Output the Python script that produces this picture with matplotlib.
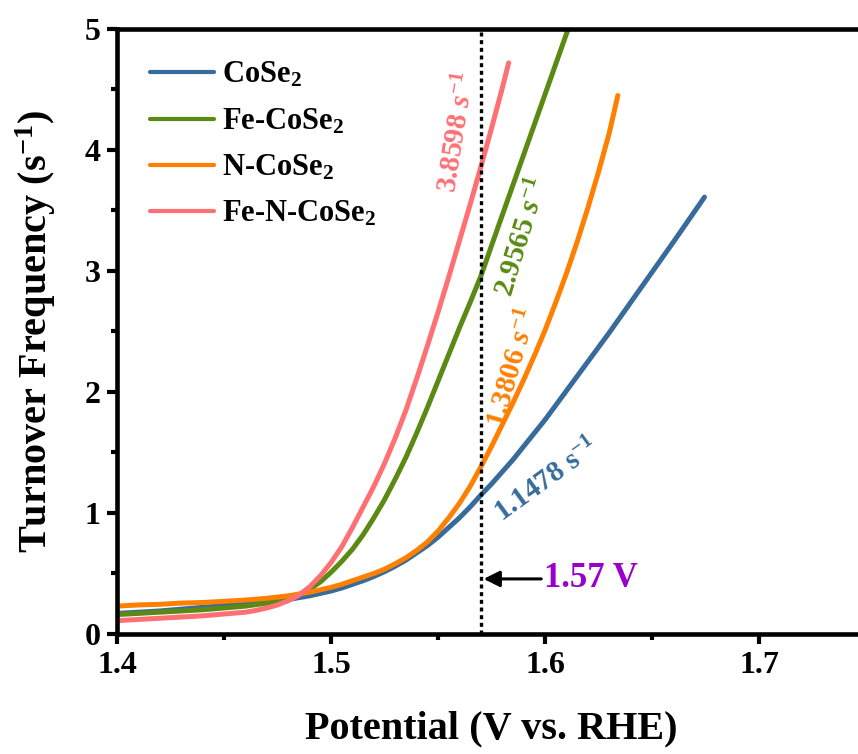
import matplotlib
matplotlib.use("Agg")
import matplotlib.pyplot as plt
from matplotlib.ticker import MultipleLocator

# TOF vs potential for the four catalysts
v_cose2 = [1.400, 1.410, 1.420, 1.430, 1.440, 1.450, 1.460, 1.470, 1.480, 1.490, 1.500,
           1.505, 1.510, 1.515, 1.520, 1.525, 1.530, 1.535, 1.540, 1.545, 1.550, 1.555,
           1.560, 1.565, 1.570, 1.575, 1.580, 1.585, 1.590, 1.595, 1.600, 1.610, 1.620,
           1.630, 1.640, 1.650, 1.660, 1.6745]
tof_cose2 = [0.17, 0.18, 0.19, 0.205, 0.22, 0.235, 0.25, 0.265, 0.285, 0.315, 0.355,
             0.38, 0.41, 0.44, 0.475, 0.515, 0.56, 0.61, 0.67, 0.73, 0.80, 0.88,
             0.96, 1.05, 1.1478, 1.24, 1.34, 1.44, 1.55, 1.66, 1.77, 2.01, 2.25,
             2.49, 2.74, 2.99, 3.24, 3.61]

v_fe = [1.400, 1.410, 1.420, 1.430, 1.440, 1.450, 1.460, 1.470, 1.475, 1.480, 1.485,
        1.490, 1.495, 1.500, 1.505, 1.510, 1.515, 1.520, 1.525, 1.530, 1.535, 1.540,
        1.545, 1.550, 1.555, 1.560, 1.565, 1.570, 1.575, 1.580, 1.585, 1.590, 1.595,
        1.600, 1.605, 1.610, 1.6115]
tof_fe = [0.16, 0.17, 0.18, 0.19, 0.20, 0.215, 0.23, 0.255, 0.27, 0.295, 0.325,
          0.37, 0.43, 0.51, 0.60, 0.70, 0.82, 0.96, 1.11, 1.28, 1.46, 1.66,
          1.87, 2.09, 2.31, 2.53, 2.74, 2.9565, 3.21, 3.46, 3.71, 3.96, 4.21,
          4.46, 4.71, 4.96, 5.03]

v_n = [1.400, 1.410, 1.420, 1.430, 1.440, 1.450, 1.460, 1.470, 1.480, 1.490, 1.500,
       1.505, 1.510, 1.515, 1.520, 1.525, 1.530, 1.535, 1.540, 1.545, 1.550, 1.555,
       1.560, 1.565, 1.570, 1.575, 1.580, 1.585, 1.590, 1.595, 1.600, 1.605, 1.610,
       1.615, 1.620, 1.625, 1.630, 1.634]
tof_n = [0.23, 0.24, 0.245, 0.255, 0.26, 0.27, 0.28, 0.295, 0.315, 0.345, 0.385,
         0.41, 0.44, 0.47, 0.50, 0.535, 0.58, 0.63, 0.69, 0.76, 0.85, 0.96,
         1.08, 1.22, 1.3806, 1.55, 1.73, 1.91, 2.10, 2.30, 2.51, 2.74, 2.98,
         3.24, 3.52, 3.82, 4.14, 4.45]

v_fen = [1.400, 1.410, 1.420, 1.430, 1.440, 1.450, 1.460, 1.465, 1.470, 1.475, 1.480,
         1.485, 1.490, 1.495, 1.500, 1.505, 1.510, 1.515, 1.520, 1.525, 1.530, 1.535,
         1.540, 1.545, 1.550, 1.555, 1.560, 1.565, 1.570, 1.575, 1.580, 1.583]
tof_fen = [0.11, 0.12, 0.13, 0.14, 0.15, 0.165, 0.18, 0.195, 0.215, 0.24, 0.275,
           0.32, 0.39, 0.48, 0.59, 0.72, 0.88, 1.05, 1.22, 1.41, 1.62, 1.85,
           2.11, 2.38, 2.66, 2.95, 3.25, 3.55, 3.8598, 4.18, 4.51, 4.72]

labels = ["CoSe$_2$", "Fe-CoSe$_2$", "N-CoSe$_2$", "Fe-N-CoSe$_2$"]
colors = ["#376B9B", "#5A8A14", "#FF8000", "#FF7074"]
v_ref = 1.57

plt.rcParams["font.family"] = "Liberation Serif"
plt.rcParams["font.weight"] = "bold"
plt.rcParams["axes.labelweight"] = "bold"
plt.rcParams["mathtext.fontset"] = "custom"
plt.rcParams["mathtext.rm"] = "Liberation Serif:bold"
plt.rcParams["mathtext.it"] = "Liberation Serif:bold:italic"
plt.rcParams["mathtext.bf"] = "Liberation Serif:bold"

fig = plt.figure(figsize=(8.58, 7.54), dpi=100)
ax = fig.add_axes([0.1364, 0.1592, 0.873, 0.8024])

series = [(v_cose2, tof_cose2), (v_fe, tof_fe), (v_n, tof_n), (v_fen, tof_fen)]
for (v, tof), lab, c in zip(series, labels, colors):
    ax.plot(v, tof, color=c, lw=3.6, label=lab, solid_capstyle="round",
            solid_joinstyle="round")

ax.plot([v_ref, v_ref], [0, 5], color="black", lw=2.4, dashes=(1.2, 1.1),
        dash_capstyle="butt")

ax.annotate("", xy=(v_ref, 0.455), xytext=(1.5995, 0.455),
            arrowprops=dict(arrowstyle="-|>", color="black", lw=2.2,
                            mutation_scale=24))
ax.text(1.5995, 0.455, "1.57 V", color="#9900CC", fontsize=25,
        ha="left", va="center")

# TOF values at 1.57 V
ax.text(1.559, 4.15, "3.8598 $\\mathit{s}^{-1}$", color=colors[3], fontsize=21,
        rotation=81, ha="center", va="center")
ax.text(1.5895, 3.28, "2.9565 $\\mathit{s}^{-1}$", color=colors[1], fontsize=21,
        rotation=73, ha="center", va="center")
ax.text(1.585, 2.20, "1.3806 $\\mathit{s}^{-1}$", color=colors[2], fontsize=21,
        rotation=74, ha="center", va="center")
ax.text(1.601, 1.27, "1.1478 s$^{-1}$", color=colors[0], fontsize=21,
        rotation=36, ha="center", va="center")

ax.set_xlim(1.4, 1.75)
ax.set_ylim(0, 5)
ax.xaxis.set_major_locator(MultipleLocator(0.1))
ax.xaxis.set_minor_locator(MultipleLocator(0.05))
ax.yaxis.set_major_locator(MultipleLocator(1))
ax.yaxis.set_minor_locator(MultipleLocator(0.5))
ax.xaxis.set_major_formatter(plt.FuncFormatter(lambda x, p: f"{x:.1f}"))
ax.tick_params(which="major", direction="out", length=7, width=3,
               labelsize=23, pad=5)
ax.tick_params(which="minor", direction="out", length=4, width=3)
ax.spines["right"].set_visible(False)
for s in ["left", "bottom", "top"]:
    ax.spines[s].set_linewidth(3.3)

ax.set_xlabel("Potential (V vs. RHE)", fontsize=29, labelpad=22)
ax.set_ylabel("Turnover Frequency (s$^{-1}$)", fontsize=29, labelpad=19)

leg = ax.legend(loc="upper left", bbox_to_anchor=(0.044, 0.948), frameon=False,
                fontsize=22, handlelength=2.1, handletextpad=0.25,
                labelspacing=0.55, borderpad=0, borderaxespad=0)
for h in leg.get_lines():
    h.set_linewidth(3)

fig.savefig("out.png", dpi=100)
